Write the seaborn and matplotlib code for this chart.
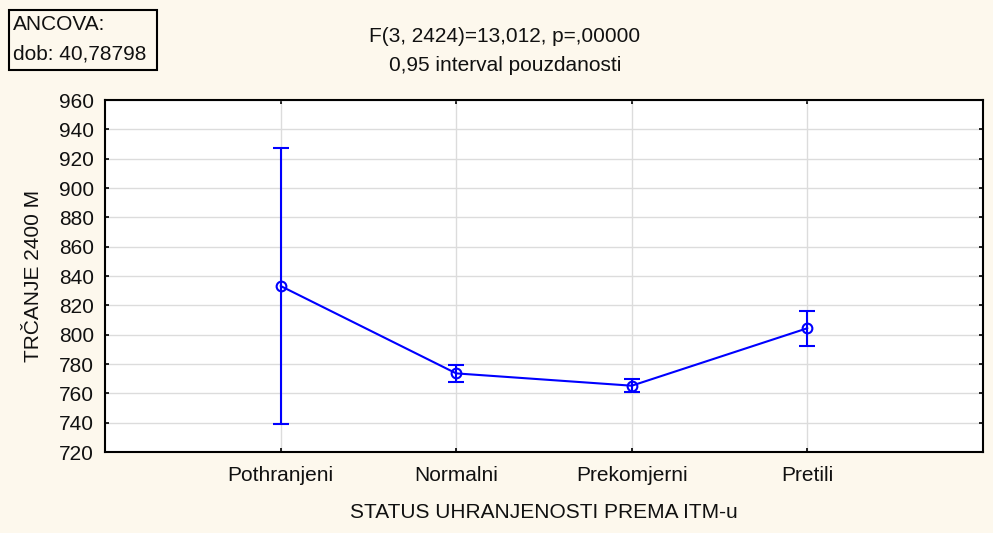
import matplotlib
matplotlib.use("Agg")
import matplotlib.pyplot as plt
import seaborn as sns
import pandas as pd
from matplotlib.patches import Rectangle

categories = ["Pothranjeni", "Normalni", "Prekomjerni", "Pretili"]
means = [833.2, 773.6, 765.2, 804.4]
ci_low = [739.1, 767.8, 760.9, 792.2]
ci_high = [927.4, 779.4, 769.8, 816.2]
y_ticks = list(range(720, 961, 20))

df = pd.DataFrame({"status": categories, "mean": means})

sns.set_theme(style="white")
plt.rcParams["font.family"] = ["Liberation Sans", "DejaVu Sans"]

bg = "#fdf8ed"
blue = "#0000ff"
txt = "#111111"
fs = 15

fig = plt.figure(figsize=(9.93, 5.33), dpi=100, facecolor=bg)
ax = fig.add_axes([105 / 993, 1 - 452 / 533, 878 / 993, 352 / 533])
ax.set_facecolor("white")

sns.pointplot(data=df, x="status", y="mean", order=categories, errorbar=None,
              color=blue, markers="o", linestyles="-", ax=ax,
              markerfacecolor="none", markeredgecolor=blue,
              markersize=7, markeredgewidth=1.5, linewidth=1.5)

pos = list(range(len(categories)))
lower = [m - lo for m, lo in zip(means, ci_low)]
upper = [hi - m for m, hi in zip(means, ci_high)]
ax.errorbar(pos, means, yerr=[lower, upper], fmt="none", ecolor=blue,
            elinewidth=1.5, capsize=6, capthick=1.5, zorder=3)

ax.set_xlim(-1, len(categories))
ax.set_ylim(720, 960)
ax.set_yticks(y_ticks)
ax.set_xticks(pos)
ax.set_xticklabels(categories)
ax.grid(True, color="#dcdcdc", linewidth=1)
ax.set_axisbelow(True)

for s in ax.spines.values():
    s.set_visible(True)
    s.set_color("black")
    s.set_linewidth(1.5)

ax.tick_params(axis="both", direction="in", length=3, width=1.2, color="black",
               labelsize=fs, labelcolor=txt,
               top=True, right=True, bottom=True, left=True,
               labeltop=False, labelright=False)
ax.tick_params(axis="x", pad=10)
ax.tick_params(axis="y", pad=8)

ax.set_xlabel("STATUS UHRANJENOSTI PREMA ITM-u", fontsize=fs, color=txt)
ax.set_ylabel("TRČANJE 2400 M", fontsize=fs, color=txt)
ax.xaxis.set_label_coords(0.5, -(513 - 452) / 352)
ax.yaxis.set_label_coords(-(105 - 34) / 878, 0.5)
ax.xaxis.label.set_va("center")
ax.yaxis.label.set_va("center")

fig.text(505 / 993, 1 - 37 / 533, "F(3, 2424)=13,012, p=,00000", ha="center",
         va="center", fontsize=fs, color=txt)
fig.text(505 / 993, 1 - 66 / 533, "0,95 interval pouzdanosti", ha="center",
         va="center", fontsize=fs, color=txt)

fig.patches.append(Rectangle((9 / 993, 1 - 70 / 533), 148 / 993, 60 / 533,
                             transform=fig.transFigure, facecolor=bg,
                             edgecolor="black", linewidth=1.5))
fig.text(13 / 993, 1 - 25 / 533, "ANCOVA:", ha="left", va="center",
         fontsize=fs, color=txt)
fig.text(13 / 993, 1 - 54 / 533, "dob: 40,78798", ha="left", va="center",
         fontsize=fs, color=txt)

fig.savefig("out.png", dpi=100, facecolor=bg)
